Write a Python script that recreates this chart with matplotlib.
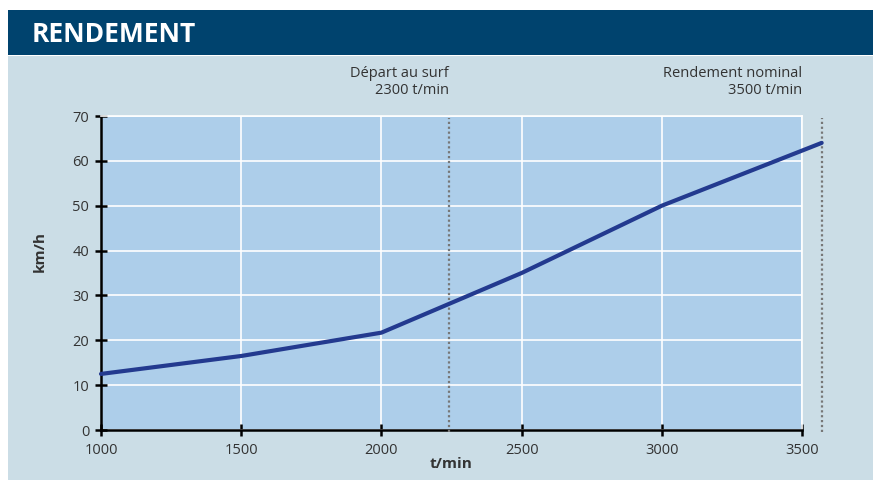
import matplotlib.pyplot as plt
from matplotlib.patches import Rectangle

plt.rcParams["font.family"] = ["Open Sans", "DejaVu Sans"]

# data
rpm = [1000, 1500, 2000, 2500, 3000, 3570]
speed = [12.5, 16.5, 21.7, 35.0, 50.0, 64.0]
x_ticks = [1000, 1500, 2000, 2500, 3000, 3500]
y_ticks = [0, 10, 20, 30, 40, 50, 60, 70]
markers = [2240, 3570]
marker_labels = ["Départ au surf\n2300 t/min", "Rendement nominal\n3500 t/min"]
marker_label_x = [2240, 3500]

BG = "#CBDDE6"
PLOT_BG = "#ADCEEA"
HEADER = "#00436E"
LINE = "#233A8F"
TXT = "#333333"

fig = plt.figure(figsize=(8.73, 4.80), dpi=100)
fig.patch.set_facecolor("white")

# light panel + dark header band
fig.patches.append(Rectangle((8 / 873, 0), 1, 424 / 480, transform=fig.transFigure,
                             facecolor=BG, edgecolor="none", zorder=-2))
fig.patches.append(Rectangle((8 / 873, 425 / 480), 1, 45 / 480, transform=fig.transFigure,
                             facecolor=HEADER, edgecolor="none", zorder=-2))
fig.text(32 / 873, 445 / 480, "RENDEMENT", color="white", fontsize=19,
         fontweight="bold", va="center", ha="left")

ax = fig.add_axes([101 / 873, 50 / 480, 701 / 873, 314 / 480])
ax.set_zorder(1)
ax.set_facecolor(PLOT_BG)
ax.set_xlim(1000, 3500)
ax.set_ylim(0, 70)
ax.set_xticks(x_ticks)
ax.set_yticks(y_ticks)
ax.grid(True, color="white", linewidth=1.2)
ax.set_axisbelow(True)

for side in ["top", "right"]:
    ax.spines[side].set_color("white")
    ax.spines[side].set_linewidth(1.2)
for side in ["left", "bottom"]:
    ax.spines[side].set_color("black")
    ax.spines[side].set_linewidth(1.8)

ax.tick_params(axis="both", direction="inout", length=9, width=1.8,
               color="black", labelcolor=TXT, labelsize=10.5)
ax.tick_params(axis="x", pad=5)
ax.tick_params(axis="y", pad=4)

for m in markers:
    ax.plot([m, m], [-0.5, 69.5], linestyle=(0, (1, 1.2)), color="#777777",
            linewidth=1.6, clip_on=False, zorder=3)

ax.plot(rpm, speed, color=LINE, linewidth=3, clip_on=False, zorder=4,
        solid_capstyle="round")

for lx, lab in zip(marker_label_x, marker_labels):
    ax.text(lx, 74.0, lab, ha="right", va="bottom", fontsize=10.5, color=TXT,
            linespacing=1.2, clip_on=False)

ax.set_xlabel("t/min", fontsize=11, fontweight="bold", color=TXT, labelpad=-1)
ax.set_ylabel("km/h", fontsize=11, fontweight="bold", color=TXT)
ax.yaxis.set_label_coords(-0.078, 0.57)

fig.savefig("out.png", dpi=100)
